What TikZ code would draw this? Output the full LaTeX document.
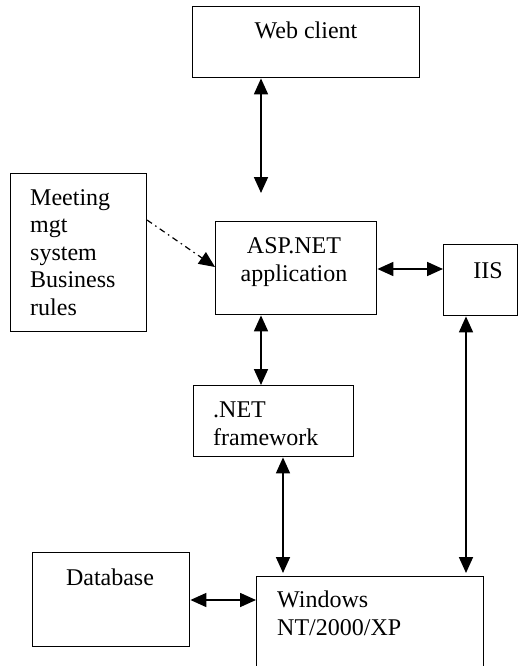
\documentclass[tikz,border=0pt]{standalone}
\usepackage{fontspec}
\setmainfont{Liberation Serif}
\usetikzlibrary{arrows.meta}
\begin{document}
\begin{tikzpicture}[x=1pt,y=-1pt,
  box/.style={draw, line width=1.4pt, inner sep=0pt, anchor=north west},
  txt/.style={inner sep=0pt, font=\fontsize{24}{27.5}\selectfont},
  dbl/.style={line width=1.7pt, {Triangle[length=16pt,width=14pt]}-{Triangle[length=16pt,width=14pt]}},
  dd/.style={line width=1.2pt, dash pattern=on 6pt off 4pt on 1.5pt off 4pt, -{Triangle[length=16pt,width=14pt]}}]
\clip (0,0) rectangle (530,666);
\fill[white] (0,0) rectangle (530,666);
% boxes
\node[box, minimum width=227pt, minimum height=71pt] (web) at (192,6) {};
\node[box, minimum width=136pt, minimum height=158pt] (meet) at (10,173) {};
\node[box, minimum width=161pt, minimum height=93pt] (asp) at (215,221) {};
\node[box, minimum width=74pt, minimum height=71pt] (iis) at (443,244) {};
\node[box, minimum width=160pt, minimum height=71pt] (net) at (193,385) {};
\node[box, minimum width=157pt, minimum height=94pt] (db) at (32,552) {};
\node[box, minimum width=227pt, minimum height=124pt] (win) at (256,576) {};
% texts (base anchor = baseline of last line)
\node[txt, anchor=base] (webt) at (306,39) {Web client};
\node[txt, anchor=base west, align=left] (meett) at (30,315) {Meeting\\mgt\\system\\Business\\rules};
\node[txt, anchor=base, align=center] (aspt) at (294,281) {ASP.NET\\application};
\node[txt, anchor=base] (iist) at (488,278) {IIS};
\node[txt, anchor=base west, align=left] (nett) at (213,445) {.NET\\framework};
\node[txt, anchor=base] (dbt) at (110,585) {Database};
\node[txt, anchor=base west, align=left] (wint) at (277,635) {Windows\\NT/2000/XP};
% connectors
\coordinate (wa) at (261,193);
\coordinate (x2) at (283,0);
\coordinate (x3) at (466,0);
\coordinate (y1) at (0,269);
\coordinate (y2) at (0,600);
\coordinate (ms) at (147,220);
\coordinate (ae) at (215,267);
\draw[dbl] (web.south -| wa) -- (wa);
\draw[dd] (ms) -- (ae);
\draw[dbl] (asp.east |- y1) -- (iis.west |- y1);
\draw[dbl] (asp.south -| wa) -- (net.north -| wa);
\draw[dbl] (net.south -| x2) -- ([yshift=3pt]win.north -| x2);
\draw[dbl] (iis.south -| x3) -- ([yshift=3pt]win.north -| x3);
\draw[dbl] (db.east |- y2) -- (win.west |- y2);
\end{tikzpicture}
\end{document}
